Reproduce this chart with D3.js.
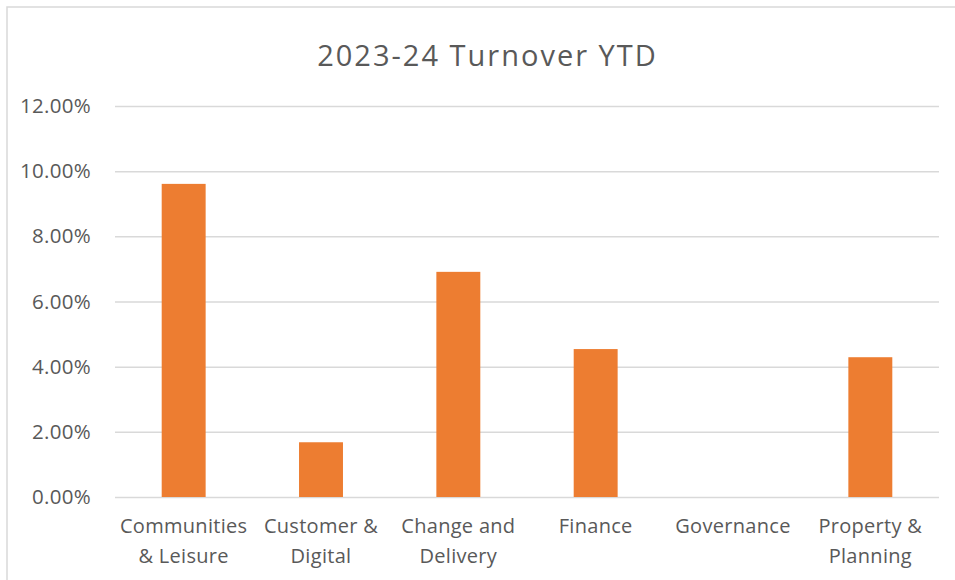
<!DOCTYPE html>
<html>
<head>
<meta charset="utf-8">
<script src="https://cdn.jsdelivr.net/npm/d3@7"></script>
<style>
	body{margin:0;background:#fff;}
	svg{display:block;}
	.tick text{font-family:"Open Sans",sans-serif;}
</style>
</head>
<body>
<div id="chart"></div>
<script>
// ---------------------------------------------- DATA ---------------------------------------------------
var categories = ["Communities & Leisure","Customer & Digital","Change and Delivery","Finance","Governance","Property & Planning"];
var labelLines = [["Communities","& Leisure"],["Customer &","Digital"],["Change and","Delivery"],["Finance"],["Governance"],["Property &","Planning"]];
var turnover = [0.0961,0.0168,0.0691,0.0454,0,0.0429];
var yTicks = [0,0.02,0.04,0.06,0.08,0.10,0.12];
var TITLE = "2023-24 Turnover YTD";

var WIDTH = 955, HEIGHT = 580;
var margin = {top:106, right:16, bottom:83, left:115};
var COLOR_BAR = "#ED7D31";
var COLOR_GRID = "#D9D9D9";
var COLOR_TEXT = "#595959";

var svg = d3.select("#chart").append("svg")
	.attr("width",WIDTH)
	.attr("height",HEIGHT);

// chart frame (cropped at right / bottom like the original)
svg.append("rect")
	.attr("x",7)
	.attr("y",7)
	.attr("width",970)
	.attr("height",600)
	.style("fill","white")
	.style("stroke",COLOR_GRID)
	.style("stroke-width",1.5);

var x = d3.scaleBand()
	.domain(categories)
	.range([margin.left,WIDTH-margin.right])
	.paddingInner(0.68)
	.paddingOuter(0.34);

var y = d3.scaleLinear()
	.domain([0,0.12])
	.range([HEIGHT-margin.bottom,margin.top]);

// gridlines + y tick labels
var yAxis = d3.axisLeft(y)
	.tickValues(yTicks)
	.tickFormat(d3.format(".2%"))
	.tickSize(-(WIDTH-margin.right-margin.left))
	.tickPadding(24);

var gY = svg.append("g")
	.attr("transform","translate("+margin.left+",0)")
	.call(yAxis);
gY.select(".domain").remove();
gY.selectAll(".tick line")
	.style("stroke",COLOR_GRID)
	.style("stroke-width",1.5);
gY.selectAll(".tick text")
	.style("fill",COLOR_TEXT)
	.style("font-size","20.5px")
	.style("letter-spacing","0.3px");

// bars
svg.append("g").attr("id","bars")
	.selectAll("rect")
	.data(turnover)
	.enter()
	.append("rect")
	.attr("x",function(d,i){return x(categories[i]);})
	.attr("y",function(d){return y(d);})
	.attr("width",x.bandwidth())
	.attr("height",function(d){return y(0)-y(d);})
	.style("fill",COLOR_BAR);

// category labels (two lines where Excel wrapped them)
var gX = svg.append("g").attr("id","xlabels");
categories.forEach(function(c,i){
	var _text = gX.append("text")
		.attr("x",x(c)+x.bandwidth()/2)
		.attr("y",y(0)+36)
		.style("text-anchor","middle")
		.style("font-family","Open Sans, sans-serif")
		.style("font-size","20px")
		.style("letter-spacing","0.3px")
		.style("fill",COLOR_TEXT);
	labelLines[i].forEach(function(l,j){
		_text.append("tspan")
			.attr("x",x(c)+x.bandwidth()/2)
			.attr("dy",j==0 ? 0 : 30)
			.text(l);
	});
});

// title
svg.append("text")
	.text(TITLE)
	.attr("x",487.5)
	.attr("y",66)
	.style("text-anchor","middle")
	.style("font-family","Open Sans, sans-serif")
	.style("font-size","29px")
	.style("letter-spacing","2px")
	.style("fill",COLOR_TEXT);
</script>
</body>
</html>
